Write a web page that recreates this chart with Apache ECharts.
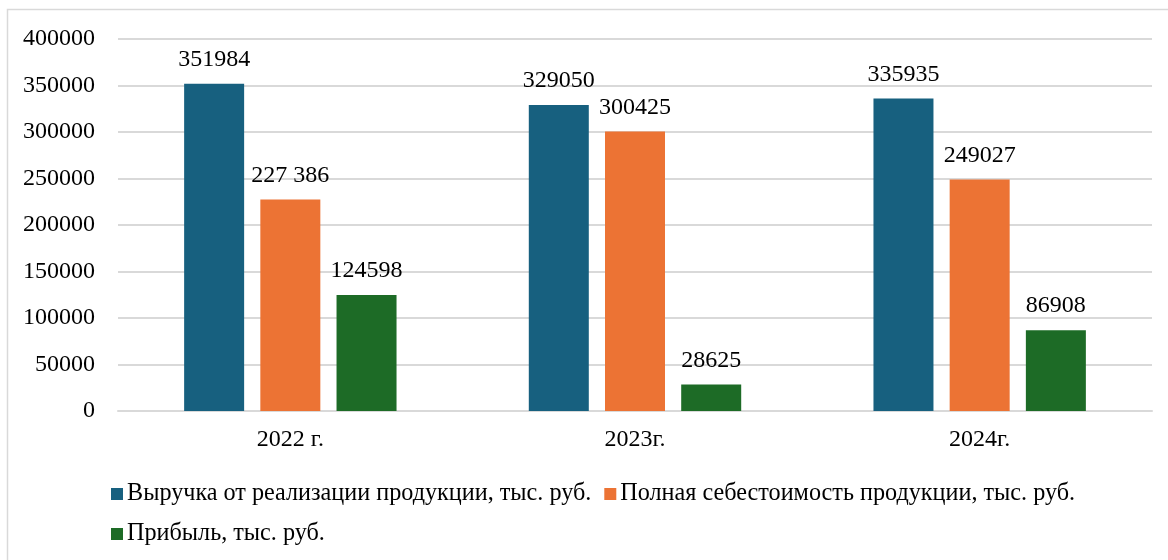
<!DOCTYPE html>
<html>
<head>
<meta charset="utf-8">
<script src="https://cdn.jsdelivr.net/npm/echarts@6/dist/echarts.min.js"></script>
<style>
  html, body { margin: 0; padding: 0; background: #fff; }
  #chart { width: 1168px; height: 560px; }
</style>
</head>
<body>
<div id="chart"></div>
<script>
// данные с картинки
const years = ['2022 г.', '2023г.', '2024г.']
const revenue = [351984, 329050, 335935]
const cost = [227386, 300425, 249027]
const profit = [124598, 28625, 86908]
const costLabels = ['227 386', '300425', '249027']
const seriesNames = [
  'Выручка от реализации продукции, тыс. руб.',
  'Полная себестоимость продукции, тыс. руб.',
  'Прибыль, тыс. руб.'
]
const colors = ['#17607f', '#ec7334', '#1d6b26']

const font = '"Liberation Serif", "Times New Roman", serif'
const chart = echarts.init(document.getElementById('chart'))

const labelStyle = {
  show: true,
  position: 'top',
  distance: 12,
  color: '#000',
  fontFamily: font,
  fontSize: 24
}

const legendText = { fontFamily: font, fontSize: 24.2, color: '#000', padding: [0, 0, 0, -1] }

chart.setOption({
  animation: false,
  textStyle: { fontFamily: font },
  graphic: [{
    type: 'rect',
    shape: { x: 7.5, y: 9.5, width: 1170, height: 560 },
    style: { fill: 'none', stroke: '#d9d9d9', lineWidth: 1.5 },
    silent: true
  }],
  grid: { left: 118, right: 16, top: 39, bottom: 149, containLabel: false },
  legend: [
    {
      data: seriesNames.slice(0, 2),
      left: 106, top: 477,
      itemWidth: 12, itemHeight: 12, itemGap: 13,
      icon: 'rect',
      textStyle: legendText
    },
    {
      data: seriesNames.slice(2),
      left: 106, top: 517,
      itemWidth: 12, itemHeight: 12,
      icon: 'rect',
      textStyle: legendText
    }
  ],
  xAxis: {
    type: 'category',
    data: years,
    axisLine: { lineStyle: { color: '#d9d9d9', width: 2 } },
    axisTick: { show: false },
    axisLabel: { color: '#000', fontFamily: font, fontSize: 24, margin: 17 }
  },
  yAxis: {
    type: 'value',
    min: 0, max: 400000, interval: 50000,
    axisLine: { show: false },
    axisTick: { show: false },
    axisLabel: {
      color: '#000', fontFamily: font, fontSize: 24, margin: 23,
      formatter: v => String(v)
    },
    splitLine: { lineStyle: { color: '#d9d9d9', width: 2 } }
  },
  series: [
    {
      name: seriesNames[0], type: 'bar', data: revenue,
      barWidth: 60, barGap: '27%',
      itemStyle: { color: colors[0] },
      label: labelStyle
    },
    {
      name: seriesNames[1], type: 'bar', data: cost,
      barWidth: 60, barGap: '27%',
      itemStyle: { color: colors[1] },
      label: Object.assign({}, labelStyle, {
        formatter: p => costLabels[p.dataIndex]
      })
    },
    {
      name: seriesNames[2], type: 'bar', data: profit,
      barWidth: 60, barGap: '27%',
      itemStyle: { color: colors[2] },
      label: labelStyle
    }
  ]
})
</script>
</body>
</html>
